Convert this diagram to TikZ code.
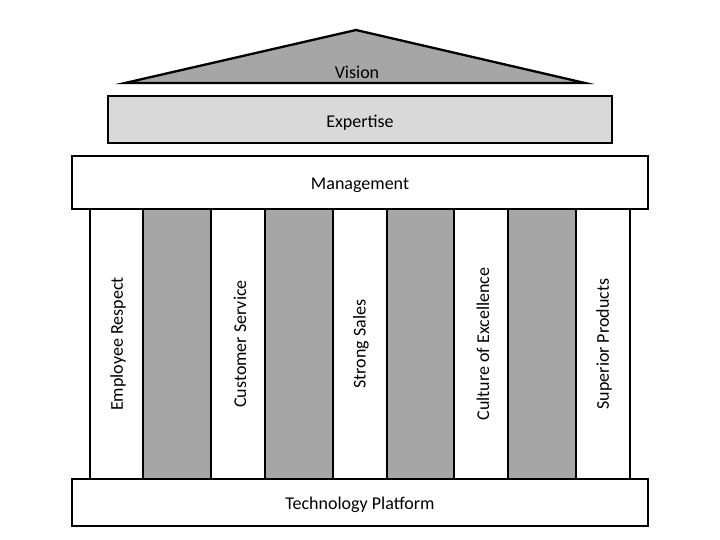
\documentclass[tikz,border=0pt]{standalone}
\usepackage{fontspec}
\setmainfont{Carlito}
\definecolor{darkfill}{HTML}{A6A6A6}
\definecolor{lightfill}{HTML}{D9D9D9}
\begin{document}
\begin{tikzpicture}[x=1pt,y=-1pt,
  part/.style={draw=black,line width=2.3pt,line join=miter},
  lbl/.style={font=\fontsize{18}{21}\selectfont,inner sep=0pt},
  vlbl/.style={lbl,rotate=90}]
\useasboundingbox (0,0) rectangle (720,540);
% roof
\draw[part,fill=darkfill] (125,83) -- (356,30) -- (585,83) -- cycle;
\node[lbl] (vision) at (357,72) {Vision};
% expertise
\draw[part,fill=lightfill] (108,96) rectangle (612,143);
\node[lbl] (expertise) at (360,123) {Expertise};
% columns
\foreach \a/\b/\c in {90/143/white,143/211/darkfill,211/265/white,265/333/darkfill,333/387/white,387/454/darkfill,454/508/white,508/576/darkfill,576/630/white}{
  \draw[part,fill=\c] (\a,209) rectangle (\b,479);
}
\node[vlbl] (c1) at (118,344) {Employee Respect};
\node[vlbl] (c2) at (240,344) {Customer Service};
\node[vlbl] (c3) at (361,344) {Strong Sales};
\node[vlbl] (c4) at (483,344) {Culture of Excellence};
\node[vlbl] (c5) at (604,344) {Superior Products};
% management
\draw[part,fill=white] (72,156) rectangle (648,209);
\node[lbl] (management) at (360,185) {Management};
% platform
\draw[part,fill=white] (72,479) rectangle (648,526);
\node[lbl] (platform) at (360,505) {Technology Platform};
\end{tikzpicture}
\end{document}
